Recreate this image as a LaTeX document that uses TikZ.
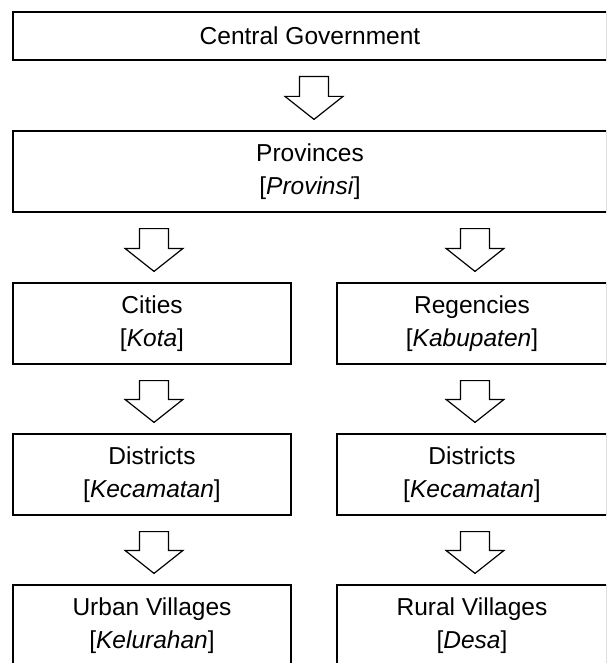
\documentclass[tikz,border=0pt]{standalone}
\usepackage{fontspec}
\setmainfont{Liberation Sans}
\usetikzlibrary{calc}
\begin{document}
\begin{tikzpicture}[x=1pt,y=-1pt,
  box/.style={draw, line width=1.2pt, minimum height=81pt, align=center,
    inner sep=0pt, font=\fontsize{24.5}{32.5}\selectfont},
  wide/.style={box, minimum width=594pt},
  half/.style={box, minimum width=278pt},
  halfR/.style={box, minimum width=270pt},
  % hollow block arrow from a box's bottom to the top of the next one
  blockarrow/.style={draw, fill=white, line width=1.2pt, line join=miter,
    to path={let \p1=(\tikztostart), \p2=(\tikztotarget) in
      (\x2-14.5pt,\y1-16pt) -- (\x2+14.5pt,\y1-16pt) -- (\x2+14.5pt,\y2+34pt)
      -- (\x2+29pt,\y2+34pt) -- (\x2,\y2+11pt) -- (\x2-29pt,\y2+34pt)
      -- (\x2-14.5pt,\y2+34pt) -- cycle}}]
\useasboundingbox (0,0) rectangle (606,663);
\clip (0,0) rectangle (606,663);

% levels of government
\node[wide, minimum height=48pt] (central) at (310,36) {Central Government};
\node[wide] (prov) at (310,171.5) {Provinces\\{[}\textit{Provinsi}{]}};
\node[half] (city) at (152,323.5) {Cities\\{[}\textit{Kota}{]}};
\node[halfR] (regency) at (472,323.5) {Regencies\\{[}\textit{Kabupaten}{]}};
\node[half] (distL) at (152,474.5) {Districts\\{[}\textit{Kecamatan}{]}};
\node[halfR] (distR) at (472,474.5) {Districts\\{[}\textit{Kecamatan}{]}};
\node[half] (urban) at (152,625.5) {Urban Villages\\{[}\textit{Kelurahan}{]}};
\node[halfR] (rural) at (472,625.5) {Rural Villages\\{[}\textit{Desa}{]}};

% arrows between levels
\path[blockarrow] (central.south) to ([xshift=4pt]prov.north);
\path[blockarrow] (prov.south) to ([xshift=2pt]city.north);
\path[blockarrow] (prov.south) to ([xshift=3pt]regency.north);
\path[blockarrow] (city.south) to ([xshift=2pt]distL.north);
\path[blockarrow] (regency.south) to ([xshift=3pt]distR.north);
\path[blockarrow] (distL.south) to ([xshift=2pt]urban.north);
\path[blockarrow] (distR.south) to ([xshift=3pt]rural.north);
\end{tikzpicture}
\end{document}
